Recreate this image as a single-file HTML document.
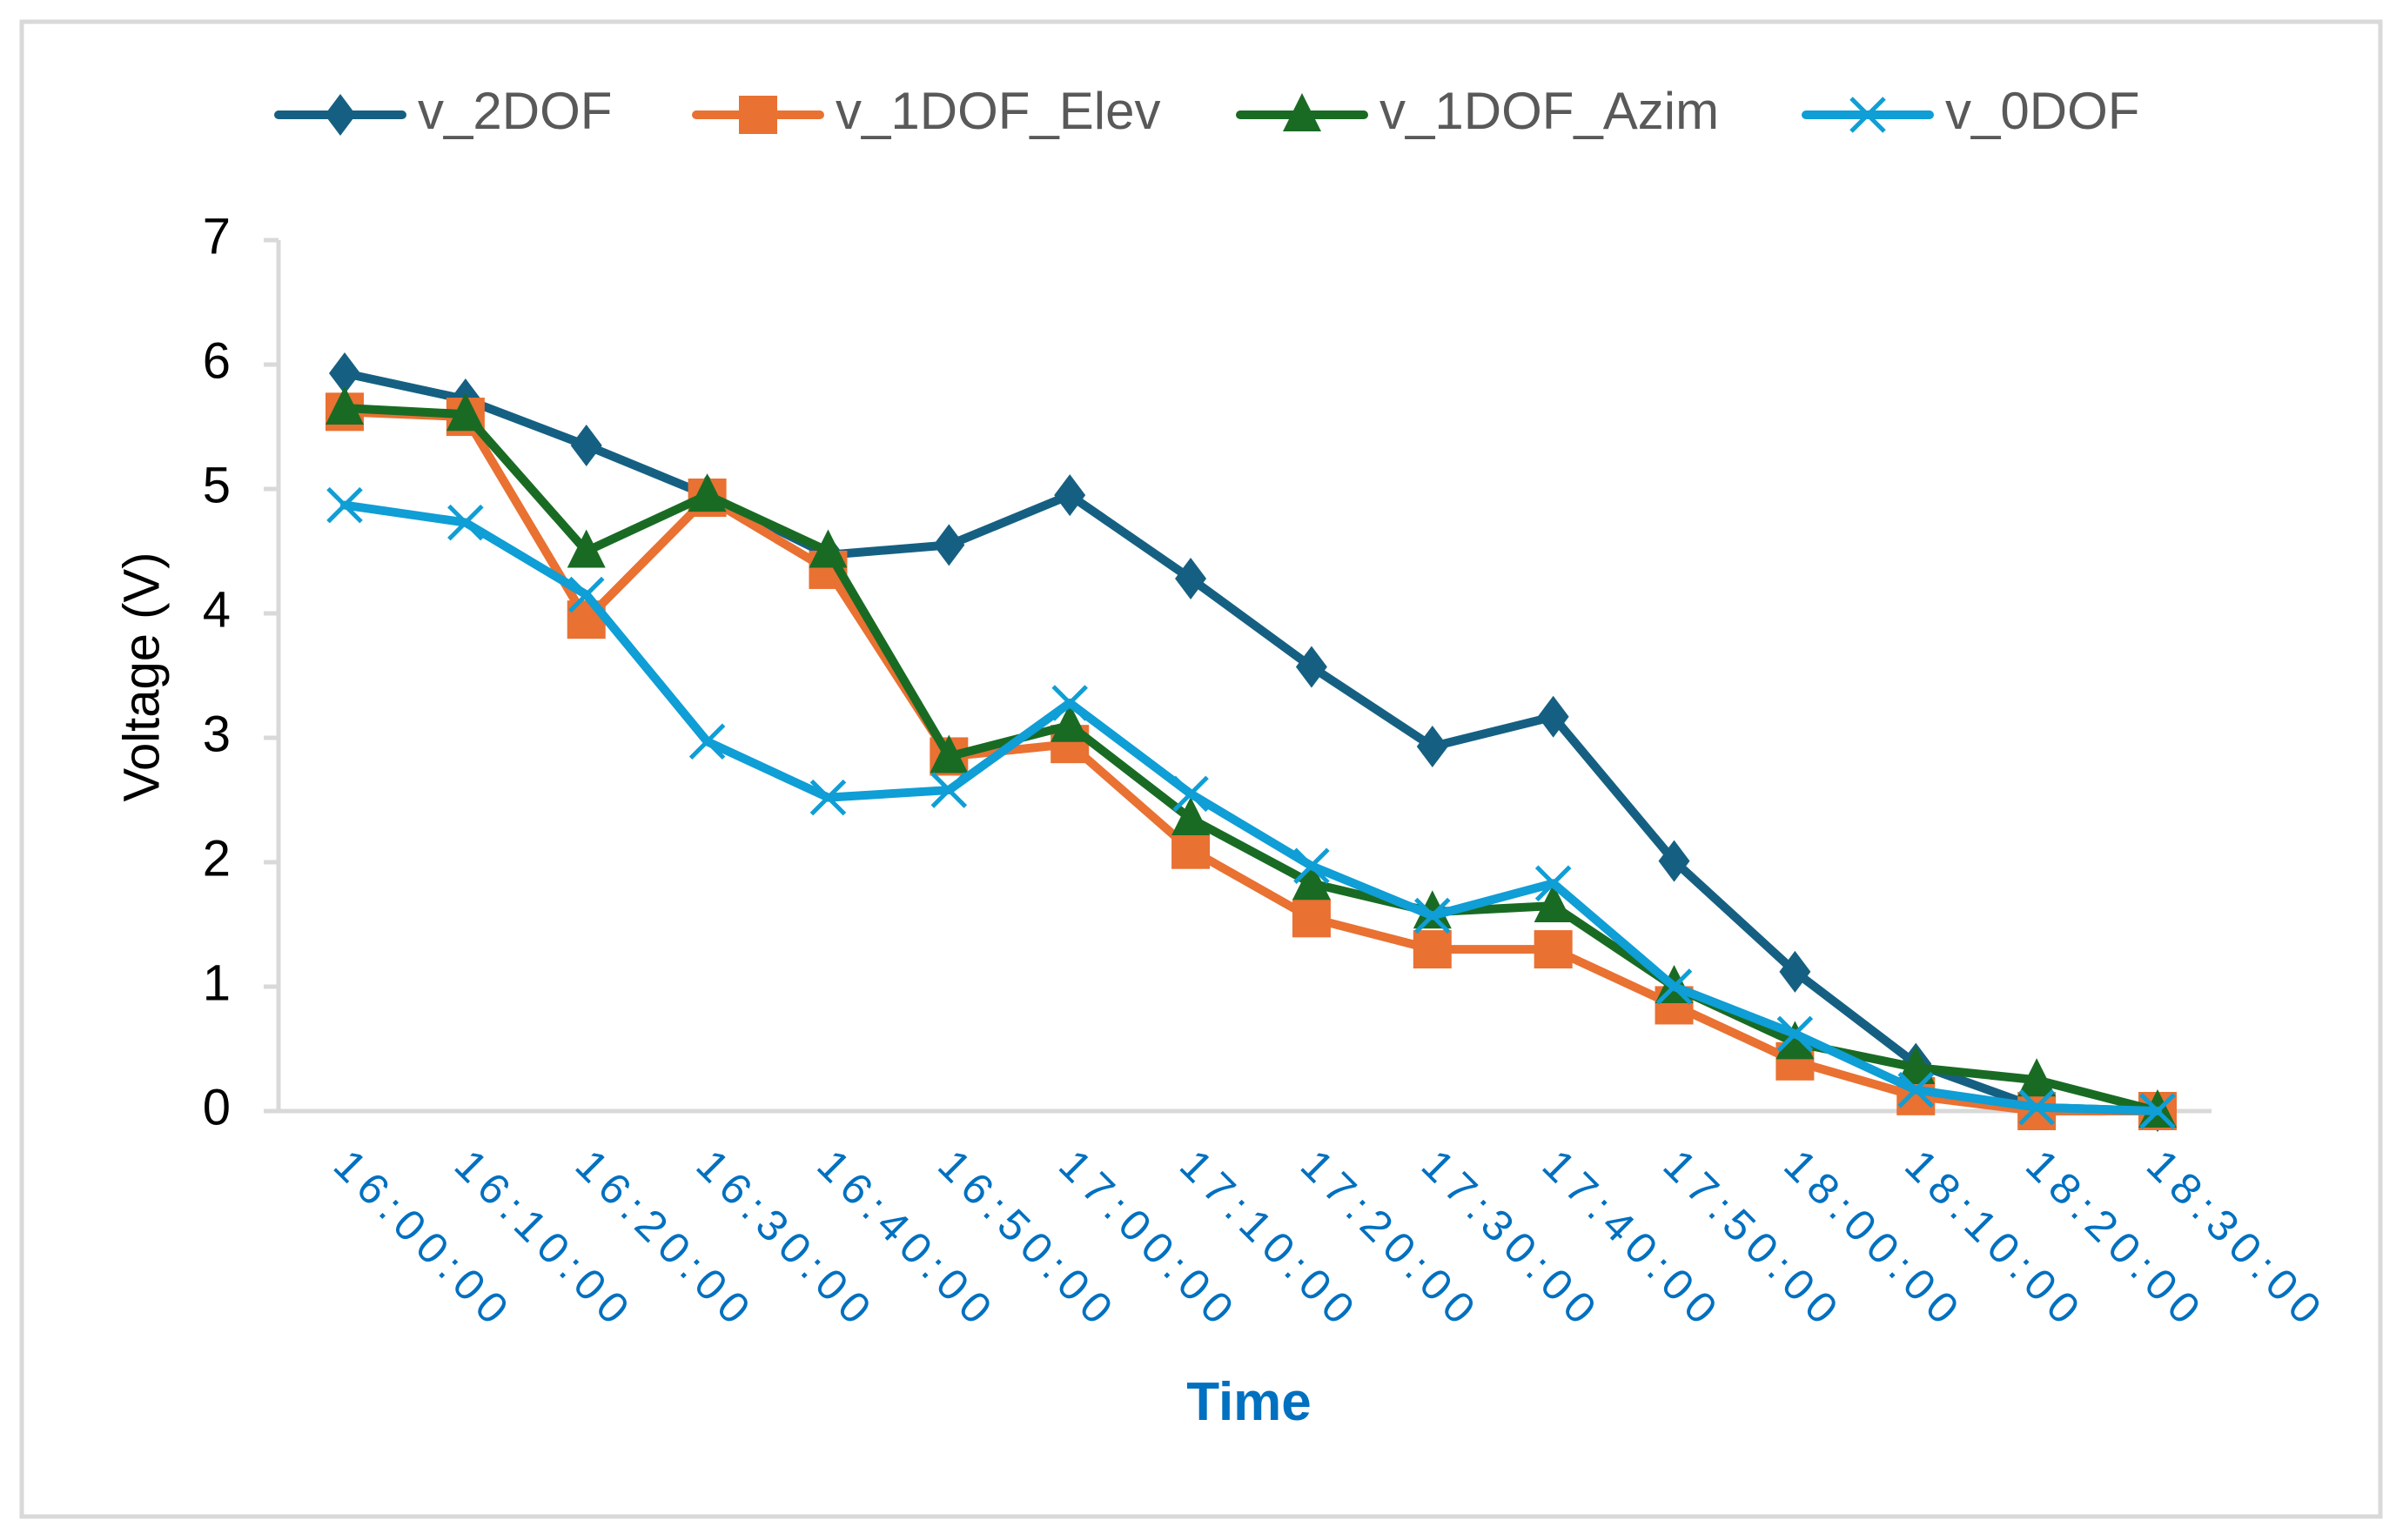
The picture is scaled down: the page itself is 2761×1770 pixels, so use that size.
<!DOCTYPE html>
<html><head><meta charset="utf-8">
<style>
html,body{margin:0;padding:0;background:#fff;}
svg{display:block;font-family:"Liberation Sans",sans-serif;}
</style></head>
<body>
<svg id="chart" width="2761" height="1770" viewBox="0 0 2761 1770" xmlns="http://www.w3.org/2000/svg">
<rect x="25" y="25" width="2710" height="1718" fill="#fff" stroke="#d9d9d9" stroke-width="5"/>
<g id="axes"></g>
<g id="series"></g>
<g id="legend"></g>
<text x="167" y="778" transform="rotate(-90 167 778)" text-anchor="middle" dominant-baseline="middle" font-size="58" fill="#000">Voltage (V)</text>
<text x="1435" y="1632" text-anchor="middle" font-size="62" font-weight="bold" fill="#0070C0">Time</text>
</svg>
<script>
const categories = ["16:00:00","16:10:00","16:20:00","16:30:00","16:40:00","16:50:00","17:00:00","17:10:00","17:20:00","17:30:00","17:40:00","17:50:00","18:00:00","18:10:00","18:20:00","18:30:00"];
const yTicks = [0,1,2,3,4,5,6,7];
const v2DOF = [5.93,5.72,5.35,4.95,4.47,4.55,4.95,4.28,3.57,2.93,3.17,2.01,1.12,0.38,0.03,0.0];
const v1DOFElev = [5.62,5.58,3.95,4.93,4.35,2.85,2.95,2.10,1.55,1.30,1.30,0.85,0.40,0.12,0.0,0.0];
const v1DOFAzim = [5.65,5.60,4.50,4.95,4.50,2.85,3.10,2.35,1.83,1.60,1.65,1.00,0.55,0.35,0.25,0.0];
const v0DOF = [4.87,4.73,4.15,2.97,2.52,2.58,3.28,2.55,1.97,1.57,1.83,1.00,0.62,0.17,0.03,0.0];
const seriesNames = ["v_2DOF","v_1DOF_Elev","v_1DOF_Azim","v_0DOF"];

const NS="http://www.w3.org/2000/svg";
const X0=396, XSTEP=(2479-396)/15, Y0=1277, YUNIT=(1277-276)/7;
const xs=i=>X0+i*XSTEP, ys=v=>Y0-v*YUNIT;
function mk(tag,attrs,parent){const e=document.createElementNS(NS,tag);for(const k in attrs)e.setAttribute(k,attrs[k]);parent.appendChild(e);return e;}
const axes=document.getElementById('axes'), ser=document.getElementById('series'), leg=document.getElementById('legend');

let yl=mk('line',{x1:320,y1:ys(7),x2:320,y2:Y0,stroke:'#d9d9d9','stroke-width':5},axes);


let xl=mk('line',{x1:303,y1:Y0,x2:2541,y2:Y0,stroke:'#d9d9d9','stroke-width':5},axes);


yTicks.forEach(t=>{
  let tk=mk('line',{x1:303,y1:ys(t),x2:320,y2:ys(t),stroke:'#d9d9d9','stroke-width':5},axes);
  
  
  let tx=mk('text',{x:265,y:ys(t),'text-anchor':'end','dominant-baseline':'middle','font-size':58,fill:'#000'},axes);
  tx.textContent=t;
  
  
});
categories.forEach((c,i)=>{
  const x=xs(i)-6, y=1333;
  let tx=mk('text',{x:x,y:y,transform:`rotate(45 ${x} ${y})`,'font-size':50,'letter-spacing':9,fill:'#0070C0','dominant-baseline':'middle'},axes);
  tx.textContent=c;
  
  
});

const colors=["#156082","#E97132","#196B24","#0F9ED5"];
const data=[v2DOF,v1DOFElev,v1DOFAzim,v0DOF];
const kinds=["diamond","square","triangle","cross"];
function marker(kind,x,y,col,parent){
  let e;
  if(kind==="diamond") e=mk('polygon',{points:`${x},${y-24} ${x+18},${y} ${x},${y+24} ${x-18},${y}`,fill:col},parent);
  else if(kind==="square") e=mk('rect',{x:x-22,y:y-22,width:44,height:44,fill:col},parent);
  else if(kind==="triangle") e=mk('polygon',{points:`${x},${y-25} ${x+22},${y+19} ${x-22},${y+19}`,fill:col},parent);
  else e=mk('path',{d:`M${x-19},${y-19}L${x+19},${y+19}M${x+19},${y-19}L${x-19},${y+19}`,stroke:col,'stroke-width':5,fill:'none'},parent);
  return e;
}
data.forEach((arr,s)=>{
  const g=mk('g',{},ser);
  
  
  let p=mk('polyline',{points:arr.map((v,i)=>xs(i)+','+ys(v)).join(' '),fill:'none',stroke:colors[s],'stroke-width':10,'stroke-linejoin':'round','stroke-linecap':'round'},g);
  
  
  arr.forEach((v,i)=>{
    let m=marker(kinds[s],xs(i),ys(v),colors[s],g);
    
    
  });
});
const legX=[320,800,1425,2075];
seriesNames.forEach((n,s)=>{
  const g=mk('g',{},leg);
  
  
  const x=legX[s], y=132;
  mk('line',{x1:x,y1:y,x2:x+142,y2:y,stroke:colors[s],'stroke-width':10,'stroke-linecap':'round'},g);
  marker(kinds[s],x+71,y,colors[s],g);
  let t=mk('text',{x:x+160,y:y,'dominant-baseline':'middle','font-size':60,fill:'#595959'},g);
  t.textContent=n;
  
  
});
</script>
</body></html>
